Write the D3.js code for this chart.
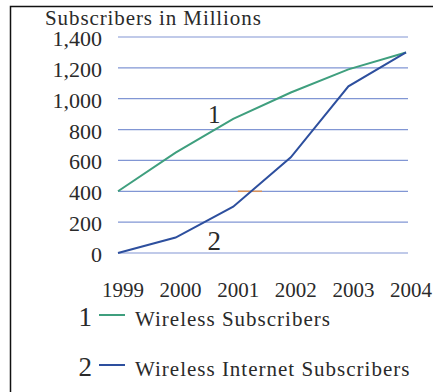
<!DOCTYPE html>
<meta charset="utf-8">
<style>
  body { margin: 0; background: #fff; }
</style>
<body>
<div id="chart"></div>
<script src="https://d3js.org/d3.v7.min.js"></script>
<script>
  // data
  var years = [1999, 2000, 2001, 2002, 2003, 2004];
  var wireless = [400, 650, 870, 1040, 1190, 1300];
  var wirelessInternet = [0, 100, 300, 620, 1080, 1300];
  var yTicks = [0, 200, 400, 600, 800, 1000, 1200, 1400];
  var legendLabels = ["Wireless Subscribers", "Wireless Internet Subscribers"];

  var W = 433, H = 392;
  var svg = d3.select("#chart").append("svg")
    .attr("width", W)
    .attr("height", H)
    .attr("font-family", "'Liberation Serif', 'Times New Roman', Times, serif")
    .attr("fill", "#2a2a2a");

  // frame (left and top edges)
  svg.append("path")
    .attr("d", "M10.5," + H + "V6.5H433")
    .attr("fill", "none")
    .attr("stroke", "#111")
    .attr("stroke-width", 1.5);

  var x = d3.scaleLinear().domain([1999, 2004]).range([118, 406]);
  var y = d3.scaleLinear().domain([0, 1400]).range([253, 37]);

  // gridlines
  svg.append("g")
    .selectAll("line")
    .data(yTicks)
    .enter()
    .append("line")
    .attr("x1", x(1999))
    .attr("x2", x(2004) + 2)
    .attr("y1", function (d) { return y(d); })
    .attr("y2", function (d) { return y(d); })
    .attr("stroke", "#8196d4")
    .attr("stroke-width", 1.2);

  // y labels
  svg.append("g")
    .selectAll("text")
    .data(yTicks)
    .enter()
    .append("text")
    .attr("x", 102)
    .attr("y", function (d) { return y(d) + 9; })
    .attr("text-anchor", "end")
    .style("font-size", "22px")
    .text(function (d) { return d3.format(",")(d); });

  // x labels
  svg.append("g")
    .selectAll("text")
    .data(years)
    .enter()
    .append("text")
    .attr("x", function (d) { return x(d) + 5; })
    .attr("y", 297)
    .attr("text-anchor", "middle")
    .style("font-size", "21px")
    .text(function (d) { return d; });

  svg.append("text")
    .attr("x", 45)
    .attr("y", 25)
    .style("font-size", "21px")
    .style("letter-spacing", "0.9px")
    .text("Subscribers in Millions");

  // small orange mark on the 400 line
  svg.append("line")
    .attr("x1", x(2001.08)).attr("x2", x(2001.5))
    .attr("y1", y(400)).attr("y2", y(400))
    .attr("stroke", "#d8915a")
    .attr("stroke-width", 1.5);

  var line = d3.line()
    .x(function (d, i) { return x(years[i]); })
    .y(function (d) { return y(d); });

  var colors = ["#3f9f7e", "#2d4f9e"];

  svg.append("path")
    .datum(wireless)
    .attr("d", line)
    .attr("fill", "none")
    .attr("stroke", colors[0])
    .attr("stroke-width", 2);

  svg.append("path")
    .datum(wirelessInternet)
    .attr("d", line)
    .attr("fill", "none")
    .attr("stroke", colors[1])
    .attr("stroke-width", 2);

  // in-chart numbers
  svg.append("text")
    .attr("x", x(2000.67))
    .attr("y", y(840))
    .attr("text-anchor", "middle")
    .style("font-size", "25px")
    .text("1");
  svg.append("text")
    .attr("x", x(2000.67))
    .attr("y", y(20))
    .attr("text-anchor", "middle")
    .style("font-size", "27px")
    .text("2");

  // legend
  var legend = svg.append("g")
    .selectAll("g")
    .data(legendLabels)
    .enter()
    .append("g")
    .attr("transform", function (d, i) { return "translate(0," + (315 + i * 50) + ")"; });

  legend.append("text")
    .attr("x", 92)
    .attr("y", 11)
    .attr("text-anchor", "end")
    .style("font-size", "27px")
    .text(function (d, i) { return i + 1; });
  legend.append("line")
    .attr("x1", 99).attr("x2", 125)
    .attr("y1", 0).attr("y2", 0)
    .attr("stroke", function (d, i) { return colors[i]; })
    .attr("stroke-width", 2);
  legend.append("text")
    .attr("x", 135)
    .attr("y", 11)
    .style("font-size", "21px")
    .style("letter-spacing", "1px")
    .text(function (d) { return d; });
</script>
</body>
